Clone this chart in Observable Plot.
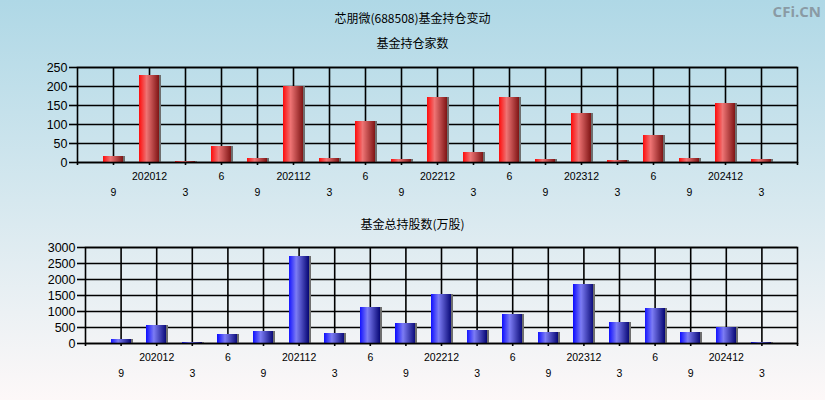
<!DOCTYPE html>
<html><head><meta charset="utf-8">
<script src="https://cdn.jsdelivr.net/npm/d3@7"></script>
<script src="https://cdn.jsdelivr.net/npm/@observablehq/plot@0.6"></script>
<style>
body{margin:0;}
#root{position:relative;width:825px;height:400px;background:linear-gradient(#afd8e6,#fdf8f8);font-family:"Liberation Sans","Noto Sans CJK SC",sans-serif;overflow:hidden}
.t{position:absolute;left:0;width:825px;text-align:center;font-size:12px;color:#000;line-height:14px;font-family:"Noto Sans CJK SC","Liberation Sans",sans-serif}
.wm{position:absolute;right:4px;top:1px;font-size:15px;font-weight:bold;color:#8a9aa4;font-family:"Open Sans","Liberation Sans",sans-serif}
.p{position:absolute;left:0}
</style></head>
<body><div id="root">
<div class="t" style="top:11px">芯朋微(688508)基金持仓变动</div>
<div class="wm">CFi.CN</div>
<div class="t" style="top:36px">基金持仓家数</div>
<div class="t" style="top:217px">基金总持股数(万股)</div>
<div class="p" id="top" style="top:55px"></div>
<div class="p" id="bot" style="top:235px"></div>
</div>
<script>
const quarters = ["202009","202012","202103","202106","202109","202112","202203","202206","202209","202212","202303","202306","202309","202312","202403","202406","202409","202412","202503"];
const tickLabels = ["9","202012","3","6","9","202112","3","6","9","202212","3","6","9","202312","3","6","9","202412","3"];
const fundCounts = [16,229,3,43,11,199,11,109,9,172,27,170,9,130,6,70,11,154,9];
const fundShares = [140,550,40,270,360,2730,300,1110,640,1520,420,920,330,1840,670,1080,330,490,40];
const countTicks = [0,50,100,150,200,250];
const shareTicks = [0,500,1000,1500,2000,2500,3000];

const idx = quarters.map((q,i)=>i);
const edgeTicks = d3.range(-1, quarters.length + 1);
const row1 = idx.filter(i => i % 2 === 1);
const row2 = idx.filter(i => i % 2 === 0);

function defs(id, c0, c1, c2) {
  return () => {
    const d = d3.create("svg:defs");
    const g = d.append("linearGradient").attr("id", id).attr("x1","0").attr("x2","1").attr("y1","0").attr("y2","0");
    g.append("stop").attr("offset","0%").attr("stop-color",c0);
    g.append("stop").attr("offset","38%").attr("stop-color",c1);
    g.append("stop").attr("offset","100%").attr("stop-color",c2);
    return d.node();
  };
}

function chart(values, yTicks, gradId, colors, opts) {
  const data = values.map((v,i)=>({i, v}));
  const hw = 0.28;
  const line = {stroke: "#000", strokeWidth: 1.6, strokeOpacity: 1};
  return Plot.plot({
    width: 825,
    height: opts.height,
    marginLeft: opts.left,
    marginRight: 28,
    marginTop: 12,
    marginBottom: opts.bottom,
    style: {background: "transparent", fontFamily: "Liberation Sans, sans-serif", color: "#000", overflow: "visible"},
    x: {type: "linear", domain: [-1, quarters.length], label: null},
    y: {domain: [yTicks[0], yTicks[yTicks.length-1]], label: null},
    marks: [
      defs(gradId, ...colors),
      Plot.ruleY(yTicks, line),
      Plot.ruleX(idx, line),
      Plot.rectY(data, {x1: d => d.i - hw, x2: d => d.i + hw, y1: 0, y2: "v", fill: "#6e6e6e", dx: 2, shapeRendering: "crispEdges"}),
      Plot.rectY(data, {x1: d => d.i - hw, x2: d => d.i + hw, y1: 0, y2: "v", fill: `url(#${gradId})`, shapeRendering: "crispEdges"}),
      Plot.frame(line),
      Plot.axisY({ticks: yTicks, tickSize: 8, tickPadding: 2, tickFormat: d => String(d), fontSize: 12.5, label: null, ...line}),
      Plot.axisX({ticks: edgeTicks, tickSize: 3, tickFormat: () => "", label: null, ...line}),
      Plot.axisX({ticks: row1, tickSize: 0, tickPadding: 10, tickFormat: i => tickLabels[i], fontSize: 10.5, label: null}),
      Plot.axisX({ticks: row2, tickSize: 0, tickPadding: 26, tickFormat: i => tickLabels[i], fontSize: 10.5, label: null})
    ]
  });
}

document.getElementById("top").appendChild(
  chart(fundCounts, countTicks, "redGrad", ["#ff0a0a", "#ee7474", "#7e1414"], {height: 155, left: 77, bottom: 48})
);
document.getElementById("bot").appendChild(
  chart(fundShares, shareTicks, "blueGrad", ["#1010ff", "#7c7cf4", "#0a0a78"], {height: 165, left: 85, bottom: 57})
);
</script>
</body></html>
